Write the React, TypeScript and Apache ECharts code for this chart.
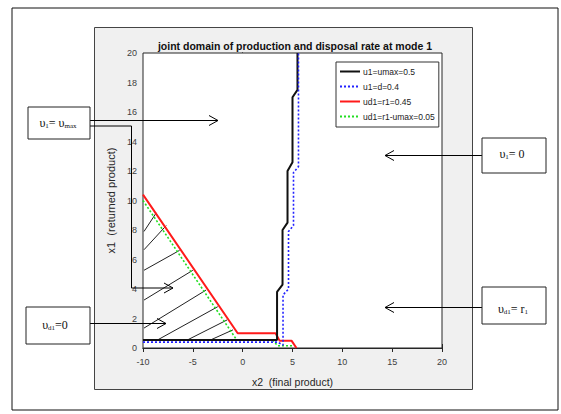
import React, { useEffect, useRef } from "react";
import * as echarts from "echarts";

const TITLE = "joint domain of production and disposal rate at mode 1";
const X_NAME = "x2  (final product)";
const Y_NAME = "x1  (returned product)";
const legendNames = ["u1=umax=0.5", "u1=d=0.4", "ud1=r1=0.45", "ud1=r1-umax=0.05"];

const u1UmaxLine: [number, number][] = [
  [-10, 0.55], [3.45, 0.55], [3.45, 3.8], [4.0, 4.3], [4.0, 8.0], [4.5, 8.5],
  [4.5, 12.0], [5.0, 12.6], [5.0, 17.0], [5.5, 17.5], [5.5, 20],
];
const u1DLine: [number, number][] = [
  [-10, 0.4], [3.5, 0.4], [4.05, 0.2], [4.05, 3.6], [4.6, 4.0], [4.6, 7.9],
  [5.1, 8.3], [5.1, 11.9], [5.6, 12.3], [5.6, 20],
];
const ud1R1Line: [number, number][] = [
  [-10, 10.4], [-0.5, 1.0], [3.3, 1.0], [3.7, 0.5], [4.9, 0.5], [5.4, 0],
];
const ud1R1UmaxLine: [number, number][] = [
  [-10, 10.0], [-0.6, 0.55], [3.0, 0.55], [3.5, 0.15], [5.0, 0.15],
];
const hatchSegments: [number, number][][] = [
  [[-9.9, 7.9], [-8.67, 9.16]],
  [[-9.9, 6.66], [-7.67, 8.3]],
  [[-9.9, 5.27], [-6.33, 6.62]],
  [[-9.9, 3.25], [-5.0, 5.27]],
  [[-9.9, 1.35], [-3.67, 3.93]],
  [[-8.5, 0.56], [-2.5, 2.8]],
  [[-5.5, 0.56], [-1.57, 1.9]],
  [[-3.17, 0.56], [-0.97, 1.23]],
];

const serifFont = "'Liberation Serif', 'DejaVu Serif', serif";
const sansFont = "'Liberation Sans', Arial, sans-serif";

function arrow(x1: number, y1: number, x2: number, y2: number, pts?: number[][]) {
  const dir = x2 > x1 ? 1 : -1;
  const path = pts ? pts : [[x1, y1], [x2, y2]];
  return [
    { type: "polyline", z: 100, shape: { points: path }, style: { stroke: "#000", lineWidth: 1, fill: null } },
    {
      type: "polyline", z: 100,
      shape: { points: [[x2 - dir * 9, y2 - 5], [x2, y2], [x2 - dir * 9, y2 + 5]] },
      style: { stroke: "#000", lineWidth: 1, fill: null },
    },
  ];
}

function box(x: number, y: number, w: number, h: number, rich: string, cx: number, cy: number) {
  return [
    { type: "rect", z: 100, shape: { x, y, width: w, height: h }, style: { fill: "#fff", stroke: "#222", lineWidth: 1 } },
    {
      type: "text", z: 101, x: cx, y: cy,
      style: {
        text: rich, align: "center", verticalAlign: "middle",
        rich: {
          a: { fontFamily: serifFont, fontSize: 12, fill: "#111" },
          s: { fontFamily: serifFont, fontSize: 7, fill: "#111", padding: [6, 0, 0, 0] },
        },
      },
    },
  ];
}

export default function App() {
  const ref = useRef<HTMLDivElement>(null);
  useEffect(() => {
    if (!ref.current) return;
    const chart = echarts.init(ref.current, null, { renderer: "svg" });
    const axisLineStyle = { color: "#262626", width: 1 };
    const labelStyle = { color: "#404040", fontSize: 9, fontFamily: sansFont };
    chart.setOption({
      animation: false,
      backgroundColor: "#fff",
      title: {
        text: TITLE, left: 290, top: 35, textAlign: "center",
        textStyle: { fontSize: 10.5, fontWeight: "bold", color: "#111", fontFamily: sansFont },
      },
      grid: {
        left: 143, top: 53, right: 119, bottom: 66, show: true,
        backgroundColor: "#fff", borderColor: "#262626", borderWidth: 1, z: 1,
      },
      legend: {
        data: legendNames, orient: "vertical", left: 336, top: 62,
        itemWidth: 20, itemHeight: 10, itemGap: 6,
        itemStyle: { color: "transparent", borderColor: "transparent", borderWidth: 0 },
        backgroundColor: "#fff", borderColor: "#333", borderWidth: 1, padding: [5, 4, 6, 3],
        textStyle: { fontSize: 8.5, color: "#222", fontFamily: sansFont, padding: [0, 0, 0, -2] },
      },
      xAxis: [
        {
          type: "value", min: -10, max: 20, interval: 5,
          name: X_NAME, nameLocation: "middle", nameGap: 28,
          nameTextStyle: { fontSize: 10.5, color: "#262626", fontFamily: sansFont },
          axisLine: { show: true, lineStyle: axisLineStyle },
          axisTick: { show: true, inside: true, length: 4, lineStyle: axisLineStyle },
          axisLabel: { ...labelStyle, margin: 9 },
          splitLine: { show: false },
        },
        {
          type: "value", min: -10, max: 20, interval: 5, position: "top",
          axisLine: { show: true, lineStyle: axisLineStyle },
          axisTick: { show: true, inside: true, length: 4, lineStyle: axisLineStyle },
          axisLabel: { show: false }, splitLine: { show: false },
        },
      ],
      yAxis: [
        {
          type: "value", min: 0, max: 20, interval: 2,
          name: Y_NAME, nameLocation: "middle", nameGap: 11,
          nameTextStyle: { fontSize: 11, color: "#262626", fontFamily: sansFont },
          axisLine: { show: true, lineStyle: axisLineStyle },
          axisTick: { show: true, inside: true, length: 4, lineStyle: axisLineStyle },
          axisLabel: { ...labelStyle, margin: 6 },
          splitLine: { show: false },
        },
        {
          type: "value", min: 0, max: 20, interval: 2, position: "right",
          axisLine: { show: true, lineStyle: axisLineStyle },
          axisTick: { show: true, inside: true, length: 4, lineStyle: axisLineStyle },
          axisLabel: { show: false }, splitLine: { show: false },
        },
      ],
      series: [
        {
          name: "hatch", type: "lines", coordinateSystem: "cartesian2d", z: 3,
          data: hatchSegments.map((s) => ({ coords: s })),
          lineStyle: { color: "#222", width: 1, opacity: 1 },
        },
        {
          name: legendNames[2], type: "line", data: ud1R1Line, symbol: "none", z: 4,
          lineStyle: { color: "#ff1a1a", width: 2 }, itemStyle: { color: "#ff1a1a" },
        },
        {
          name: legendNames[3], type: "line", data: ud1R1UmaxLine, symbol: "none", z: 5,
          lineStyle: { color: "#22dd22", width: 1.6, type: [2, 2] }, itemStyle: { color: "#22dd22" },
        },
        {
          name: legendNames[0], type: "line", data: u1UmaxLine, symbol: "none", z: 6,
          lineStyle: { color: "#111", width: 2 }, itemStyle: { color: "#111" },
        },
        {
          name: legendNames[1], type: "line", data: u1DLine, symbol: "none", z: 7,
          lineStyle: { color: "#2222ff", width: 1.6, type: [2, 2] }, itemStyle: { color: "#2222ff" },
        },
      ],
      graphic: [
        { type: "rect", z: -20, silent: true, shape: { x: 12, y: 8, width: 546, height: 402 }, style: { fill: "#fff", stroke: "#111", lineWidth: 1 } },
        { type: "rect", z: -10, silent: true, shape: { x: 94.5, y: 27.5, width: 378, height: 362 }, style: { fill: "#f0f0f0", stroke: "#444", lineWidth: 1 } },
        ...arrow(90, 120.5, 218, 120.5),
        ...arrow(90, 126, 173, 288, [[90, 126], [131.5, 126], [131.5, 288], [173, 288]]),
        ...arrow(90, 323.5, 166, 323.5),
        ...arrow(482, 155.5, 385, 155.5),
        ...arrow(482, 307.5, 385, 307.5),
        ...box(28, 107, 62, 32, "{a|υ}{s|1}{a|= υ}{s|max}", 58, 123),
        ...box(26, 307, 64, 37, "{a|υ}{s|d1}{a|=0}", 55, 325),
        ...box(482, 138, 64, 35, "{a|υ}{s|1}{a|= 0}", 512, 154),
        ...box(482, 287, 64, 37, "{a|υ}{s|d1}{a|= r}{s|1}", 513, 309),
      ],
    });
    return () => chart.dispose();
  }, []);
  return <div ref={ref} style={{ position: "absolute", left: 0, top: 0, width: 561, height: 414 }} />;
}
